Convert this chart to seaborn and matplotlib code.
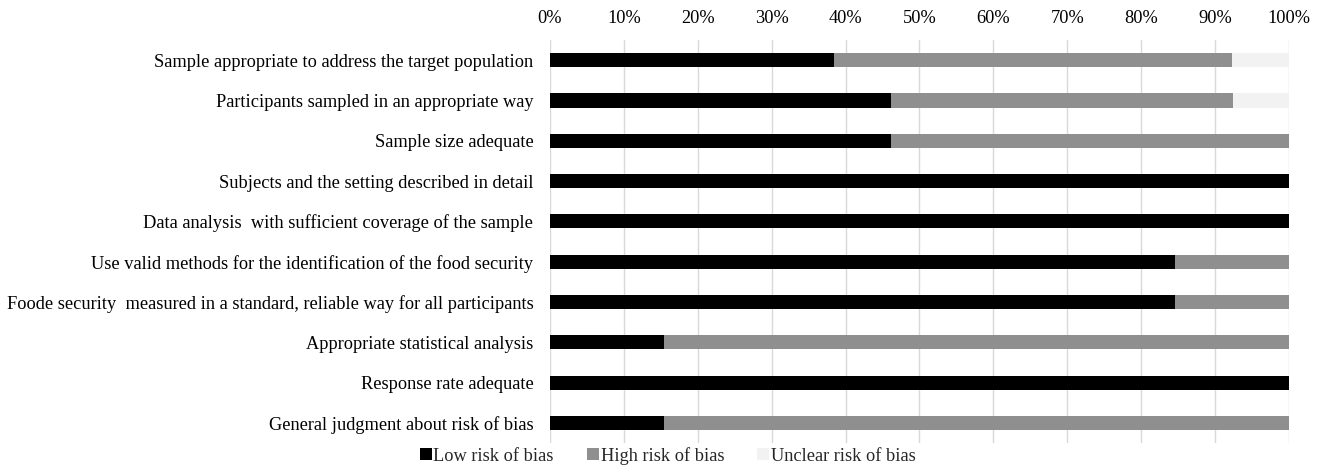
import matplotlib
matplotlib.use("Agg")
import matplotlib.pyplot as plt
import seaborn as sns
import numpy as np
import pandas as pd
from matplotlib.patches import Patch
from matplotlib.ticker import PercentFormatter

categories = [
    "Sample appropriate to address the target population",
    "Participants sampled in an appropriate way",
    "Sample size adequate",
    "Subjects and the setting described in detail",
    "Data analysis  with sufficient coverage of the sample",
    "Use valid methods for the identification of the food security",
    "Foode security  measured in a standard, reliable way for all participants",
    "Appropriate statistical analysis",
    "Response rate adequate",
    "General judgment about risk of bias",
]
low = [38.5, 46.2, 46.2, 100, 100, 84.6, 84.6, 15.4, 100, 15.4]
high = [53.8, 46.2, 53.8, 0, 0, 15.4, 15.4, 84.6, 0, 84.6]
unclear = [7.7, 7.6, 0, 0, 0, 0, 0, 0, 0, 0]
series = ["Low risk of bias", "High risk of bias", "Unclear risk of bias"]
colors = ["#000000", "#8f8f8f", "#f2f2f2"]

sns.set_theme(style="white")
plt.rcParams["font.family"] = ["Liberation Serif", "DejaVu Serif"]

df = pd.DataFrame({"cat": categories, "low": low, "high": high, "unclear": unclear})
df["c1"] = df["low"]
df["c2"] = df["low"] + df["high"]
df["c3"] = df["c2"] + df["unclear"]

fig = plt.figure(figsize=(13.22, 4.65), dpi=100)
ax = fig.add_axes([0.416, 0.047, 0.559, 0.867])

for col, color in zip(["c3", "c2", "c1"], colors[::-1]):
    sns.barplot(data=df, x=col, y="cat", order=categories, color=color,
                width=0.35, orient="h", ax=ax, saturation=1, linewidth=0)

ax.set_xlim(0, 100)
ax.set_xticks(np.arange(0, 101, 10))
ax.xaxis.set_major_formatter(PercentFormatter(decimals=0))
ax.xaxis.tick_top()
ax.set_xlabel("")
ax.set_ylabel("")
ax.tick_params(axis="both", length=0, labelsize=13.2, colors="#000000")
ax.tick_params(axis="y", pad=12)
ax.tick_params(axis="x", pad=9.5)
ax.grid(axis="x", color="#d9d9d9", linewidth=1)
ax.set_axisbelow(True)
for s in ax.spines.values():
    s.set_visible(False)

handles = [Patch(facecolor=c, edgecolor="none") for c in colors]
fig.legend(handles, series, loc="center", bbox_to_anchor=(0.505, 0.02), ncol=3,
           frameon=False, fontsize=13.2, handlelength=0.65, handleheight=0.65,
           handletextpad=0.1, columnspacing=1.8)

fig.savefig("out.png", dpi=100)
